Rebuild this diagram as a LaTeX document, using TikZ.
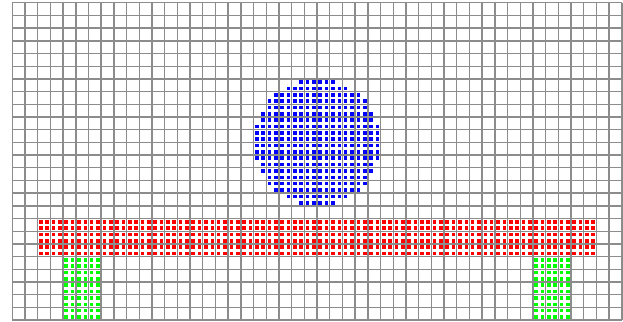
\documentclass[tikz,border=0pt]{standalone}
\begin{document}
\begin{tikzpicture}[x=12.7pt,y=-12.7pt,
  gridline/.style={draw=black!45,line width=1.4pt}]
\useasboundingbox (-0.969,-0.213) rectangle (48.09,25.14);
\def\hs{1.8pt}
% grid
\foreach \i in {0,...,48}{\draw[gridline] (\i,0) -- (\i,25);}
\foreach \j in {0,...,25}{\draw[gridline] (0,\j) -- (48,\j);}
% red band
\foreach \i in {2,...,45}{\foreach \j in {17,18,19}{\foreach \a in {0.25,0.75}{\foreach \b in {0.25,0.75}{
  \fill[red] (\i+\a,\j+\b) ++(-\hs,-\hs) rectangle ++(2*\hs,2*\hs);}}}}
% green legs
\foreach \i in {4,5,6,41,42,43}{\foreach \j in {20,...,24}{\foreach \a in {0.25,0.75}{\foreach \b in {0.25,0.75}{
  \fill[green] (\i+\a,\j+\b) ++(-\hs,-\hs) rectangle ++(2*\hs,2*\hs);}}}}
% blue disc
\foreach \i in {0,...,19}{\foreach \j in {0,...,19}{
  \pgfmathsetmacro\px{19.25+0.5*\i}
  \pgfmathsetmacro\py{6.25+0.5*\j}
  \pgfmathtruncatemacro\ok{((\px-24)^2+(\py-11)^2<25)?1:0}
  \ifnum\ok>0 \fill[blue] (\px,\py) ++(-\hs,-\hs) rectangle ++(2*\hs,2*\hs);\fi
}}
\end{tikzpicture}
\end{document}
